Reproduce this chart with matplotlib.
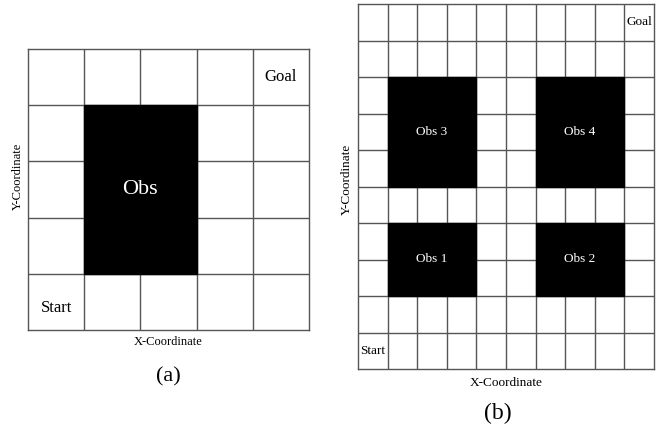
import matplotlib.pyplot as plt
from matplotlib.patches import Rectangle

plt.rcParams["font.family"] = ["Liberation Serif", "DejaVu Serif"]

# Panel (a): 5x5 grid with one obstacle
grid_a = (5, 5)
obstacles_a = [(1, 1, 2, 3)]  # (col, row, width, height) in cells, row 0 at bottom
obs_labels_a = ["Obs"]
start_a = (0, 0)
goal_a = (4, 4)

# Panel (b): 10x10 grid with four obstacles
grid_b = (10, 10)
obstacles_b = [(1, 2, 3, 2), (6, 2, 3, 2), (1, 5, 3, 3), (6, 5, 3, 3)]
obs_labels_b = ["Obs 1", "Obs 2", "Obs 3", "Obs 4"]
start_b = (0, 0)
goal_b = (9, 9)

W, H = 667, 434
fig = plt.figure(figsize=(W / 100, H / 100), dpi=100)
fig.patch.set_facecolor("white")

line_color = "#555555"


def draw_grid(ax, grid, obstacles, labels, start, goal, obs_size, sg_size, start_dy=0.0):
    ncols, nrows = grid
    ax.set_xlim(0, ncols)
    ax.set_ylim(0, nrows)
    ax.set_xticks([])
    ax.set_yticks([])
    for s in ax.spines.values():
        s.set_color(line_color)
        s.set_linewidth(1.0)
    ax.vlines(range(1, ncols), 0, nrows, color=line_color, lw=1.0)
    ax.hlines(range(1, nrows), 0, ncols, color=line_color, lw=1.0)
    for (c, r, w, h), lab in zip(obstacles, labels):
        ax.add_patch(Rectangle((c, r), w, h, facecolor="black", edgecolor="black", zorder=3))
        ax.text(c + w / 2, r + h / 2, lab, color="white", fontsize=obs_size,
                ha="center", va="center", zorder=4)
    ax.text(start[0] + 0.5, start[1] + 0.5 + start_dy, "Start", fontsize=sg_size,
            ha="center", va="center")
    ax.text(goal[0] + 0.5, goal[1] + 0.5, "Goal", fontsize=sg_size,
            ha="center", va="center")


# panel (a)
ax_a = fig.add_axes([28 / W, (H - 330) / H, 281 / W, 281 / H])
draw_grid(ax_a, grid_a, obstacles_a, obs_labels_a, start_a, goal_a, 16, 12, start_dy=-0.1)
ax_a.text(0.5, -12 / 281, "X-Coordinate", transform=ax_a.transAxes, fontsize=9,
          ha="center", va="center")
ax_a.text(-10 / 281, 0.545, "Y-Coordinate", transform=ax_a.transAxes, fontsize=9,
          rotation=90, ha="center", va="center")
fig.text(168 / W, 1 - 377 / H, "(a)", fontsize=16, ha="center", va="center")

# panel (b)
ax_b = fig.add_axes([358 / W, (H - 369) / H, 296 / W, 365 / H])
draw_grid(ax_b, grid_b, obstacles_b, obs_labels_b, start_b, goal_b, 9.5, 9.5)
ax_b.text(0.5, -14 / 365, "X-Coordinate", transform=ax_b.transAxes, fontsize=9.5,
          ha="center", va="center")
ax_b.text(-11 / 296, 0.52, "Y-Coordinate", transform=ax_b.transAxes, fontsize=9.5,
          rotation=90, ha="center", va="center")
fig.text(498 / W, 1 - 413 / H, "(b)", fontsize=17, ha="center", va="center")

fig.savefig("out.png", dpi=100, facecolor="white")
